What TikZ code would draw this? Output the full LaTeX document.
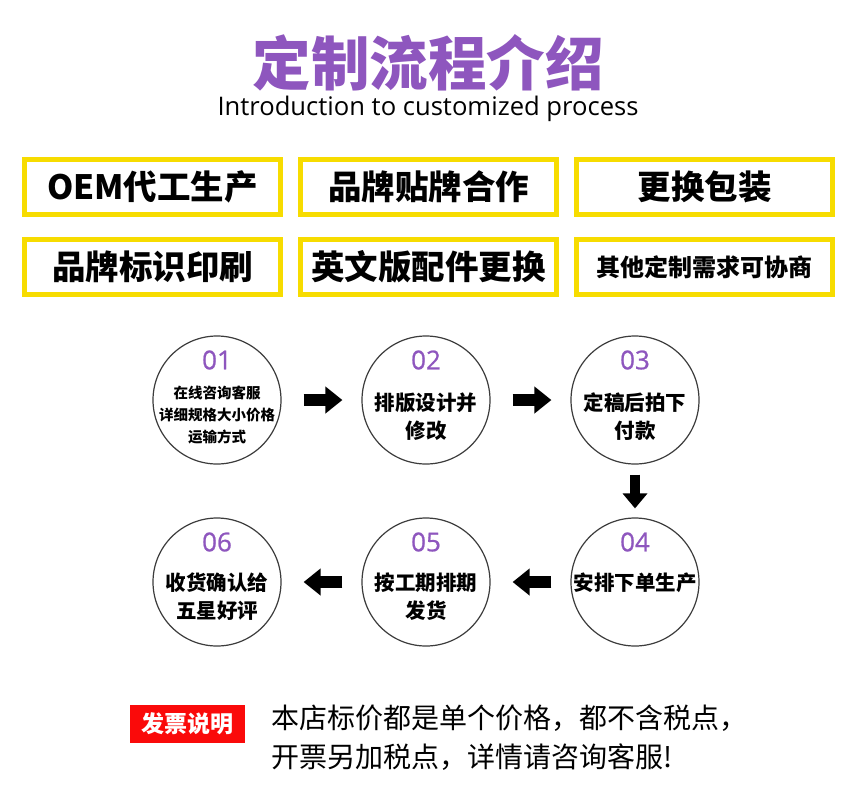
\documentclass[tikz,border=0pt]{standalone}
\usepackage{fontspec}
\setmainfont{Noto Sans CJK SC}
\newfontfamily\latinfont{Open Sans}
\newfontfamily\numfont[FakeBold=0.8]{Open Sans}
\usepackage{xcolor}
\usepackage{tikz}
\usetikzlibrary{arrows.meta,positioning}

\definecolor{titlepurple}{RGB}{142,86,190}
\definecolor{boxyellow}{RGB}{247,220,0}
\definecolor{noticered}{RGB}{250,10,10}
\definecolor{ringgray}{RGB}{60,60,60}

\begin{document}
\begin{tikzpicture}[x=1pt, y=-1pt,
    >={Triangle[length=17pt,width=26pt]},
    node distance=209pt]
  \tikzstyle{every node}=[inner sep=0pt]
  \tikzstyle{yellowbox}=[draw=boxyellow, line width=5pt, minimum width=256pt,
    minimum height=55pt, font=\fontsize{33.5}{36}\selectfont\bfseries]
  \tikzstyle{stepcircle}=[circle, draw=ringgray, line width=1.2pt, minimum size=128pt]
  \tikzstyle{stepnum}=[text=titlepurple, font=\numfont\fontsize{26}{30}\selectfont]
  \tikzstyle{steptext}=[align=center, font=\fontsize{20.5}{28}\selectfont\bfseries]
  \tikzstyle{smalltext}=[align=center, font=\fontsize{14.5}{22}\selectfont\bfseries]
  \tikzstyle{flow}=[->, line width=12pt]
  \tikzstyle{downflow}=[-{Triangle[length=15pt,width=24pt]}, line width=10pt]

  \fill[white] (0,0) rectangle (858,788);
  \useasboundingbox (0,0) rectangle (858,788);

  \node (T) [text=titlepurple, font=\fontsize{58.5}{62}\selectfont\bfseries] at (428,63) {定制流程介绍};
  \node (t) [font=\latinfont\fontsize{25.6}{30}\selectfont] at (428,109) {Introduction to customized process};

  \node (b1) [yellowbox]                   at (152.5,187) {OEM代工生产};
  \node (b2) [yellowbox, right=15pt of b1]               {品牌贴牌合作};
  \node (b3) [yellowbox, right=15pt of b2]               {更换包装};
  \node (b4) [yellowbox, below=20pt of b1]               {品牌标识印刷};
  \node (b5) [yellowbox, right=15pt of b4]               {英文版配件更换};
  \node (b6) [yellowbox, right=15pt of b5, font=\fontsize{24}{28}\selectfont\bfseries] {其他定制需求可协商};

  \node (c1) [stepcircle] at (217,400) {};
  \node (c2) [stepcircle, right of=c1] {};
  \node (c3) [stepcircle, right of=c2] {};
  \node (c4) [stepcircle, below of=c3, node distance=182pt] {};
  \node (c5) [stepcircle, left of=c4] {};
  \node (c6) [stepcircle, left of=c5] {};

  \node (n1) [stepnum] at ([yshift=40pt]c1.center) {01};
  \node (n2) [stepnum] at ([yshift=40pt]c2.center) {02};
  \node (n3) [stepnum] at ([yshift=40pt]c3.center) {03};
  \node (n4) [stepnum] at ([yshift=40pt]c4.center) {04};
  \node (n5) [stepnum] at ([yshift=40pt]c5.center) {05};
  \node (n6) [stepnum] at ([yshift=40pt]c6.center) {06};

  \node (s1) [smalltext] at ([yshift=-15pt]c1.center) {在线咨询客服\\详细规格大小价格\\运输方式};
  \node (s2) [steptext]  at ([yshift=-17pt]c2.center) {排版设计并\\修改};
  \node (s3) [steptext]  at ([yshift=-17pt]c3.center) {定稿后拍下\\付款};
  \node (s4) [steptext]  at ([yshift=-1pt]c4.center)  {安排下单生产};
  \node (s5) [steptext]  at ([yshift=-15pt]c5.center) {按工期排期\\发货};
  \node (s6) [steptext]  at ([yshift=-15pt]c6.center) {收货确认给\\五星好评};

  \path (c1) edge [flow, shorten <=22pt, shorten >=19pt] (c2)
        (c2) edge [flow, shorten <=22pt, shorten >=19pt] (c3)
        (c3) edge [downflow, shorten <=10pt, shorten >=9pt] (c4)
        (c4) edge [flow, shorten <=19pt, shorten >=22pt] (c5)
        (c5) edge [flow, shorten <=19pt, shorten >=22pt] (c6);

  \node (inv) [fill=noticered, minimum width=115pt, minimum height=38pt, text=white,
    font=\fontsize{23}{26}\selectfont\bfseries] at (187.5,724) {发票说明};
  \node (l1) [anchor=west, font=\fontsize{28}{30}\selectfont] at (271,718) {本店标价都是单个价格，都不含税点，};
  \node (l2) [anchor=west, font=\fontsize{28}{30}\selectfont] at (271,757) {开票另加税点，详情请咨询客服!};
\end{tikzpicture}
\end{document}
